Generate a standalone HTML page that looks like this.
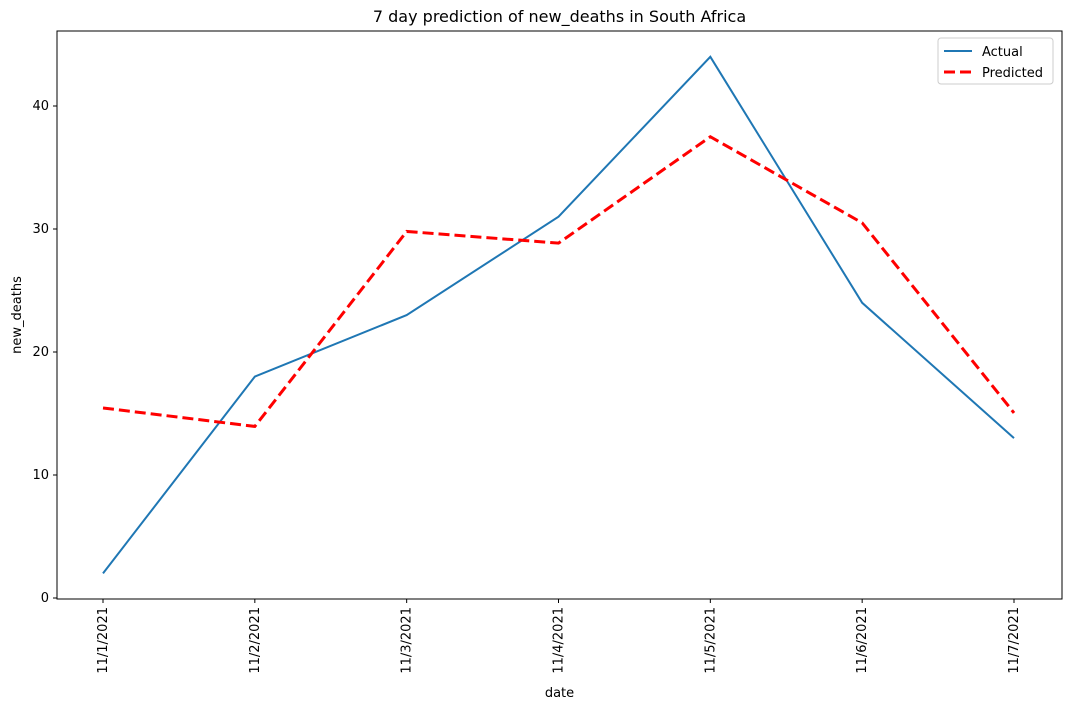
<!DOCTYPE html>
<html><head><meta charset="utf-8"><style>
body{margin:0;background:#fff;font-family:"Liberation Sans","DejaVu Sans",sans-serif;}
svg text{font-family:"DejaVu Sans","Liberation Sans",sans-serif;}
</style></head><body>
<svg id="chart" width="1070" height="709" xmlns="http://www.w3.org/2000/svg"></svg>
<script>
const categories = ["11/1/2021","11/2/2021","11/3/2021","11/4/2021","11/5/2021","11/6/2021","11/7/2021"];
const actualValues = [2, 18, 23, 31, 44, 24, 13];
const predictedValues = [15.45, 13.95, 29.8, 28.85, 37.5, 30.5, 15.05];
const yTicks = [0, 10, 20, 30, 40];

const svg = document.getElementById('chart');
const NS = "http://www.w3.org/2000/svg";
const L=57, R=1062, T=31, B=599;
const x0=103, x1=1014, y0px=598, pxPerUnit=12.3;
function xs(i){ return x0 + (x1-x0)*i/(categories.length-1); }
function ys(v){ return y0px - v*pxPerUnit; }
function mk(tag, attrs, parent){ const e=document.createElementNS(NS,tag); for(const k in attrs) e.setAttribute(k,attrs[k]); (parent||svg).appendChild(e); return e; }

const title = mk('text',{x:(L+R)/2,y:22,'text-anchor':'middle','font-size':16,fill:'#000'});
title.textContent = "7 day prediction of new_deaths in South Africa";



const frame = mk('rect',{x:L,y:T,width:R-L,height:B-T,fill:'none',stroke:'#000','stroke-width':1});



yTicks.forEach(v=>{
  const y=ys(v);
  const t=mk('line',{x1:L-4,x2:L,y1:y,y2:y,stroke:'#000'});
  
  
  const lb=mk('text',{x:L-8,y:y+4,'text-anchor':'end','font-size':13});
  lb.textContent=v;
  
  
});
categories.forEach((c,i)=>{
  const x=xs(i);
  const t=mk('line',{x1:x,x2:x,y1:B,y2:B+4,stroke:'#000'});
  
  
  const lb=mk('text',{x:x+4,y:B+8,'text-anchor':'end','font-size':13,transform:`rotate(-90 ${x+4} ${B+8})`});
  lb.textContent=c;
  
  
});
const xt=mk('text',{x:(L+R)/2,y:697,'text-anchor':'middle','font-size':13});
xt.textContent='date';


const yt=mk('text',{x:21,y:315,'text-anchor':'middle','font-size':13,transform:'rotate(-90 21 315)'});
yt.textContent='new_deaths';



const a=mk('polyline',{points:actualValues.map((v,i)=>xs(i)+','+ys(v)).join(' '),fill:'none',stroke:'#1f77b4','stroke-width':2});


const p=mk('polyline',{points:predictedValues.map((v,i)=>xs(i)+','+ys(v)).join(' '),fill:'none',stroke:'#ff0000','stroke-width':3,'stroke-dasharray':'11,5'});



const lg=mk('g',{});


mk('rect',{x:938,y:38,width:115,height:46,rx:3,fill:'#fff',stroke:'#ccc'},lg);
const e1=mk('line',{x1:944,x2:972,y1:51,y2:51,stroke:'#1f77b4','stroke-width':2},lg);


const t1=mk('text',{x:982,y:56,'font-size':13},lg); t1.textContent='Actual';


const e2=mk('line',{x1:944,x2:972,y1:72,y2:72,stroke:'#ff0000','stroke-width':3,'stroke-dasharray':'11,5'},lg);


const t2=mk('text',{x:982,y:77,'font-size':13},lg); t2.textContent='Predicted';


</script>
</body></html>
